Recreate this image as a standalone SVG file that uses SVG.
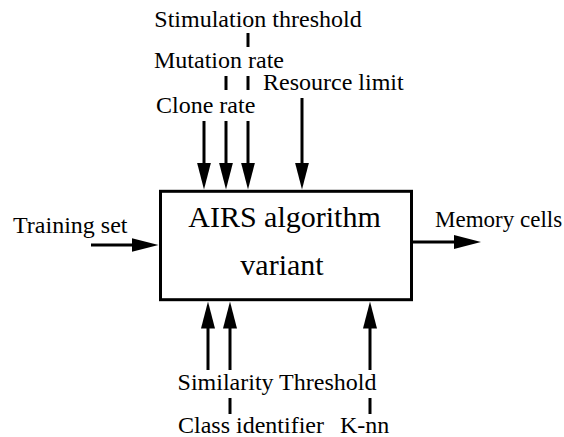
<svg xmlns="http://www.w3.org/2000/svg" width="564" height="437" viewBox="0 0 564 437">
<defs>
<marker id="ah" viewBox="0 0 27 14" refX="2" refY="7" markerWidth="27" markerHeight="14" orient="auto" markerUnits="userSpaceOnUse">
<path d="M0,0 L27,7 L0,14 Z" fill="#000"/>
</marker>
<style>
.c{stroke:#000;stroke-width:3;fill:none}
.a{marker-end:url(#ah)}
</style>
</defs>
<rect width="564" height="437" fill="#fff"/>
<g id="box">
<rect x="160.5" y="191.3" width="251" height="108.4" fill="#fff" stroke="#000" stroke-width="3"/>
<text x="284.5" y="227.3" font-size="30" font-family="'Times New Roman', 'Liberation Serif', serif" text-anchor="middle">AIRS algorithm</text>
<text x="282" y="275" font-size="30" font-family="'Times New Roman', 'Liberation Serif', serif" text-anchor="middle">variant</text>
</g>
<g id="connectors">
<line class="c a" x1="204" y1="121" x2="204" y2="164.5"/>
<line class="c a" x1="226" y1="121" x2="226" y2="164.5"/>
<line class="c a" x1="248" y1="121" x2="248" y2="164.5"/>
<line class="c a" x1="302" y1="98" x2="302" y2="164.5"/>
<line class="c" x1="248" y1="33" x2="248" y2="47"/>
<line class="c" x1="226" y1="76" x2="226" y2="90"/>
<line class="c" x1="248" y1="76" x2="248" y2="90"/>
<line class="c a" x1="91" y1="245" x2="133.5" y2="245"/>
<line class="c a" x1="413" y1="242" x2="456" y2="242"/>
<line class="c a" x1="208" y1="370" x2="208" y2="326.5"/>
<line class="c a" x1="230" y1="370" x2="230" y2="326.5"/>
<line class="c a" x1="370" y1="370" x2="370" y2="326.5"/>
<line class="c" x1="230" y1="398" x2="230" y2="414"/>
<line class="c" x1="370" y1="398" x2="370" y2="414"/>
</g>
<g id="stimulation-threshold"><text x="258" y="26.7" font-size="24" font-family="'Times New Roman', 'Liberation Serif', serif" text-anchor="middle">Stimulation threshold</text></g>
<g id="mutation-rate"><text x="154" y="68.3" font-size="24" font-family="'Times New Roman', 'Liberation Serif', serif">Mutation rate</text></g>
<g id="resource-limit"><text x="263" y="90" font-size="24" font-family="'Times New Roman', 'Liberation Serif', serif">Resource limit</text></g>
<g id="clone-rate"><text x="156" y="112.7" font-size="24" font-family="'Times New Roman', 'Liberation Serif', serif">Clone rate</text></g>
<g id="training-set"><text x="13" y="233.3" font-size="24" font-family="'Times New Roman', 'Liberation Serif', serif">Training set</text></g>
<g id="memory-cells"><text x="435" y="226.7" font-size="23" font-family="'Times New Roman', 'Liberation Serif', serif">Memory cells</text></g>
<g id="similarity-threshold"><text x="277" y="390" font-size="24" font-family="'Times New Roman', 'Liberation Serif', serif" text-anchor="middle">Similarity Threshold</text></g>
<g id="class-identifier"><text x="178" y="433" font-size="24" font-family="'Times New Roman', 'Liberation Serif', serif">Class identifier</text></g>
<g id="k-nn"><text x="340" y="433" font-size="24" font-family="'Times New Roman', 'Liberation Serif', serif">K-nn</text></g>
</svg>
